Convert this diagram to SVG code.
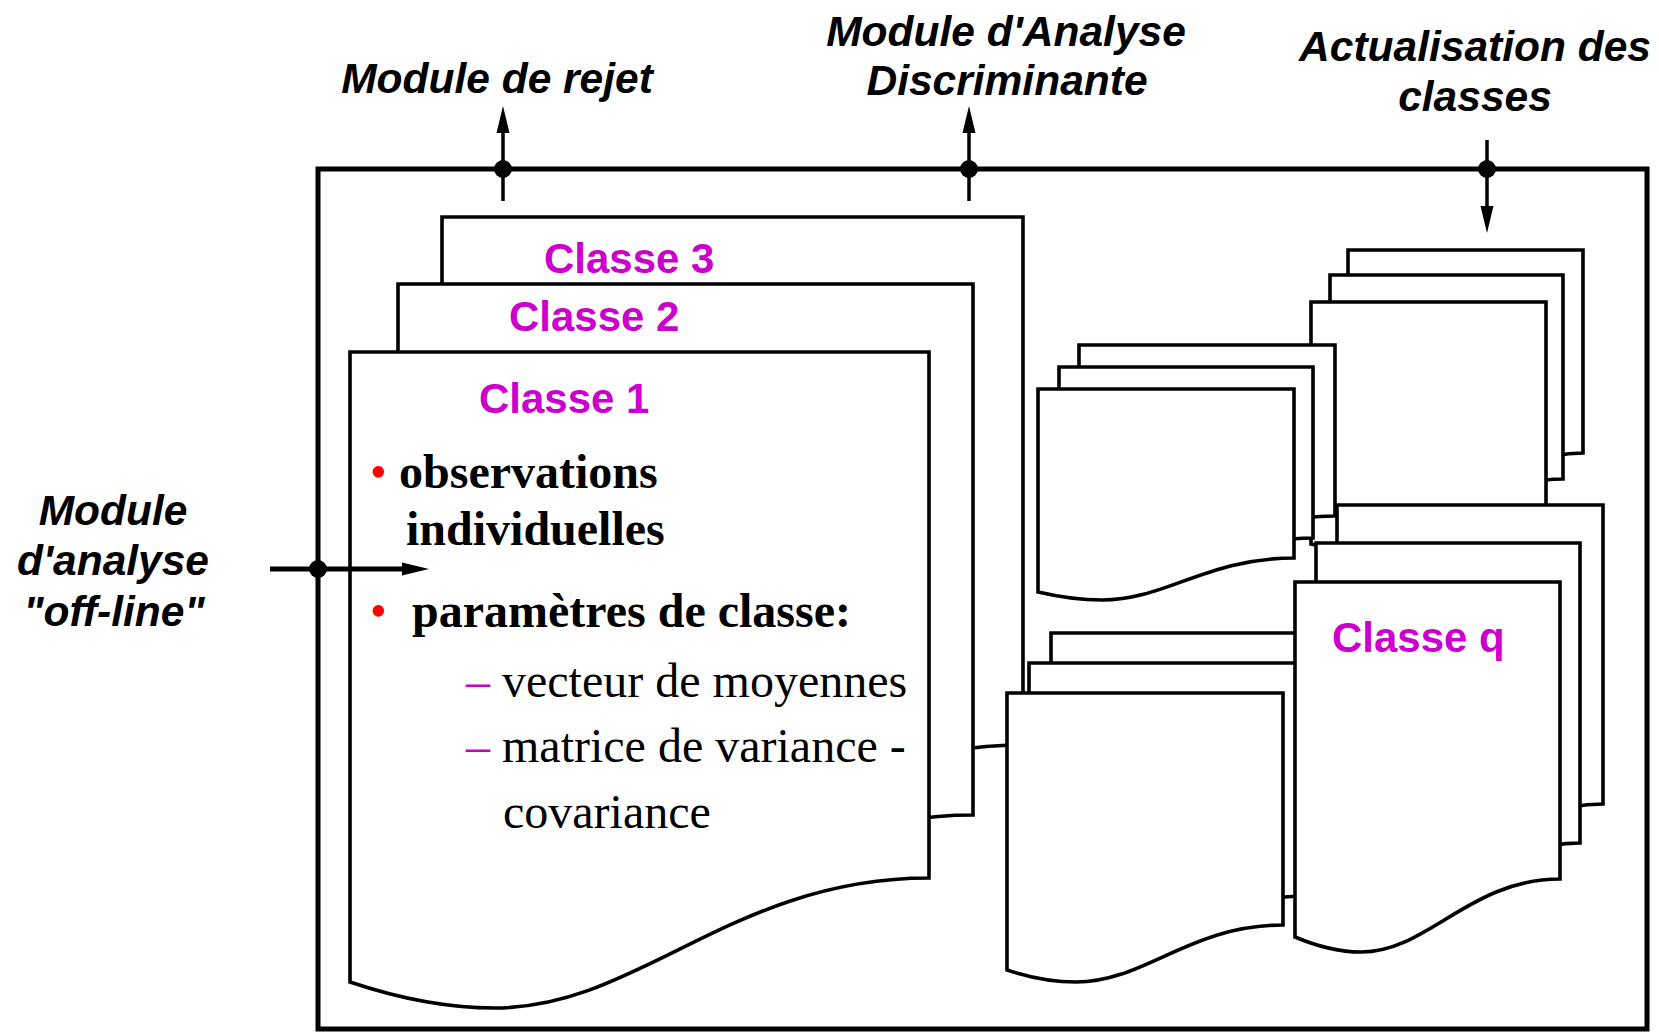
<svg xmlns="http://www.w3.org/2000/svg" width="1659" height="1032" viewBox="0 0 1659 1032">
<style>
.doc{fill:#fff;stroke:#000;stroke-width:3.6;stroke-linejoin:miter}
.frame{fill:none;stroke:#000;stroke-width:5}
.title{font-family:"Liberation Sans",Arial,sans-serif;font-weight:bold;font-style:italic;font-size:42.5px;fill:#000;text-anchor:middle}
.cls{font-family:"Liberation Sans",Arial,sans-serif;font-weight:bold;font-size:42px;fill:#cc00cc}
.bb{font-family:"Liberation Serif","Times New Roman",serif;font-weight:bold;font-size:48px;fill:#000}
.br{font-family:"Liberation Serif","Times New Roman",serif;font-size:48px;fill:#000}
.red{fill:#ff0000;font-weight:normal}
.mag{fill:#cc00cc}
.conn{stroke:#000;stroke-width:3.5;fill:none}
</style>
<defs>
<marker id="arr" markerUnits="userSpaceOnUse" markerWidth="28" markerHeight="14" refX="0" refY="6.5" orient="auto" overflow="visible">
<path d="M0,0 L27,6.5 L0,13 Z" fill="#000"/>
</marker>
</defs>
<rect id="frame" class="frame" x="318" y="169" width="1329" height="860"/>

<g id="classe3">
<path class="doc" d="M442,217 H1023 V745 C825.5,745 732.5,875 587,875 C535,875 488.5,864.6 442,849 Z"/>
<text class="cls" x="544" y="273">Classe 3</text>
</g>
<g id="classe2">
<path class="doc" d="M398,284 H973 V815 C777.5,815 685.5,945 541.75,945 C490,945 444,934.6 398,919 Z"/>
<text class="cls" x="509" y="331">Classe 2</text>
</g>
<g id="classe1">
<path class="doc" d="M350,352 H929 V878 C732,878 639.5,1008 494.75,1008 C442.6,1008 396.3,997.6 350,982 Z"/>
<text class="cls" x="479" y="413">Classe 1</text>
<text class="bb" x="370" y="488"><tspan class="red">•</tspan><tspan x="399">observations</tspan></text>
<text class="bb" x="406" y="545">individuelles</text>
<text class="bb" x="370" y="627"><tspan class="red">•</tspan><tspan x="412">paramètres de classe:</tspan></text>
<text class="br" x="466" y="697"><tspan class="mag">–</tspan> vecteur de moyennes</text>
<text class="br" x="466" y="762"><tspan class="mag">–</tspan> matrice de variance -</text>
<text class="br" x="503" y="828">covariance</text>
</g>

<g id="topright-stack">
<path class="doc" d="M1348,250 H1583 V453 C1503,453 1465.5,516 1406.75,516 C1385.6,516 1366.8,511.2 1348,504 Z"/>
<path class="doc" d="M1330,275 H1563 V479 C1483.8,479 1446.5,542 1388.25,542 C1367.3,542 1348.6,537.2 1330,530 Z"/>
<path class="doc" d="M1311,302 H1546 V512 C1466,512 1428.5,552 1369.75,552 C1348.6,552 1329.8,549 1311,544 Z"/>
</g>

<g id="uppermiddle-stack">
<path class="doc" d="M1079,345 H1335 V516 C1248,516 1207,558 1143,558 C1120,558 1099.5,554.8 1079,550 Z"/>
<path class="doc" d="M1059,367 H1313 V538 C1226.6,538 1186,580 1122.5,580 C1099.6,580 1079.3,576.8 1059,572 Z"/>
<path class="doc" d="M1038,389 H1294 V558 C1207,558 1166,600 1102,600 C1079,600 1058.5,596.8 1038,592 Z"/>
</g>

<g id="lowermiddle-stack">
<path class="doc" d="M1051,633 H1327 V866 C1233.2,866 1189,923 1120,923 C1095.2,923 1073.1,918.2 1051,911 Z"/>
<path class="doc" d="M1029,663 H1305 V896 C1211.2,896 1167,953 1098,953 C1073.2,953 1051.1,948.2 1029,941 Z"/>
<path class="doc" d="M1007,693 H1283 V925 C1189.2,925 1145,982 1076,982 C1051.2,982 1029.1,977.2 1007,970 Z"/>
</g>

<g id="lowerright-stack">
<path class="doc" d="M1337,505 H1603 V804 C1512.6,804 1470,877 1403.5,877 C1379.6,877 1358.3,871 1337,862 Z"/>
<path class="doc" d="M1316,543 H1580 V843 C1490.2,843 1448,916 1382,916 C1358.2,916 1337.1,910 1316,901 Z"/>
</g>
<g id="classeq">
<path class="doc" d="M1295,582 H1560 V879 C1469.9,879 1427.5,952 1361.25,952 C1337.4,952 1316.2,946 1295,937 Z"/>
<text class="cls" x="1332" y="652">Classe q</text>
</g>

<g id="label-rejet"><text class="title" x="497" y="93">Module de rejet</text></g>
<g id="label-analyse"><text class="title" x="1006" y="46">Module d'Analyse</text><text class="title" x="1007" y="95">Discriminante</text></g>
<g id="label-actualisation"><text class="title" x="1475" y="61">Actualisation des</text><text class="title" x="1475" y="111">classes</text></g>
<g id="label-offline"><text class="title" x="113" y="525">Module</text><text class="title" x="113" y="575">d'analyse</text><text class="title" x="114" y="626">"off-line"</text></g>

<g id="connectors">
<line class="conn" x1="503" y1="201" x2="503" y2="133" marker-end="url(#arr)"/>
<circle cx="503" cy="169" r="9" fill="#000"/>
<line class="conn" x1="969" y1="201" x2="969" y2="133" marker-end="url(#arr)"/>
<circle cx="969" cy="169" r="9" fill="#000"/>
<line class="conn" x1="1487" y1="140" x2="1487" y2="206" marker-end="url(#arr)"/>
<circle cx="1487" cy="169" r="9" fill="#000"/>
<line class="conn" style="stroke-width:5" x1="270" y1="569" x2="402" y2="569" marker-end="url(#arr)"/>
<circle cx="318" cy="569" r="9" fill="#000"/>
</g>
</svg>
